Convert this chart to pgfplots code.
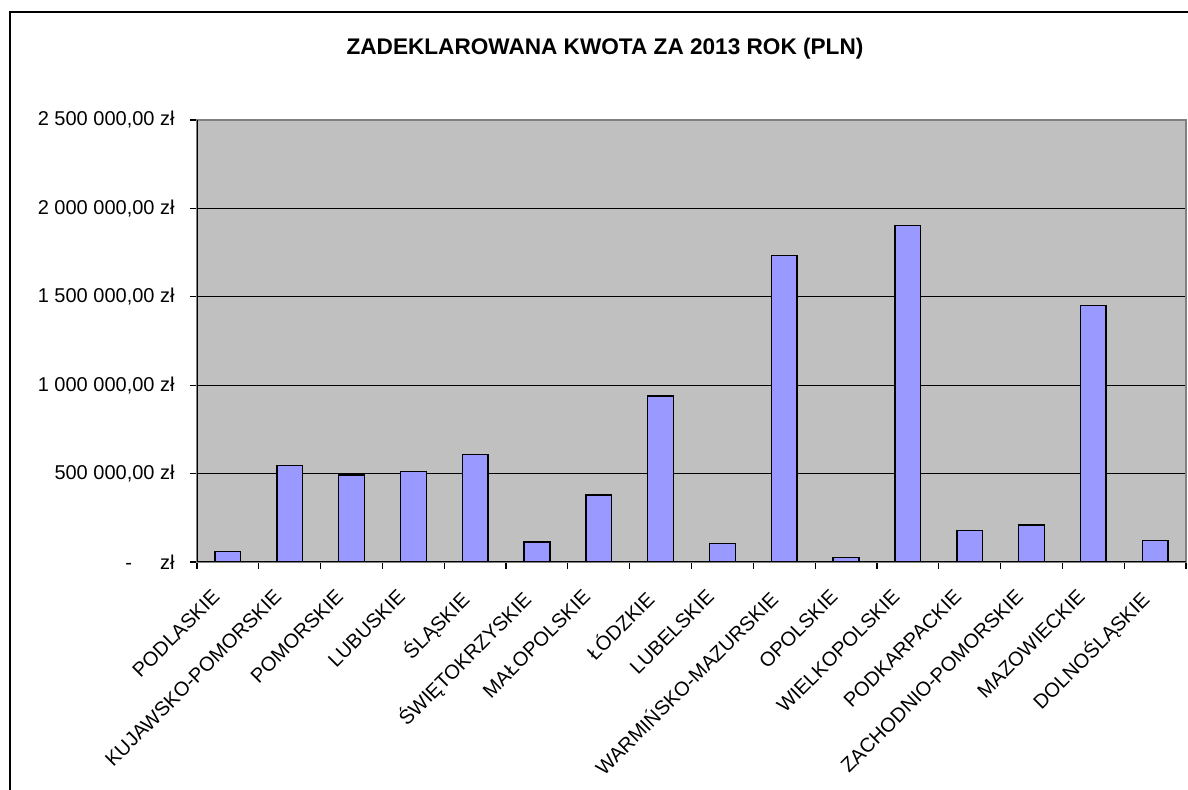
\documentclass[border=0pt]{standalone}
\usepackage{fontspec}
\setmainfont{Liberation Sans}
\usepackage{pgfplots}
\pgfplotsset{compat=1.18}
\definecolor{plotbg}{HTML}{C0C0C0}
\definecolor{barfill}{HTML}{9999FF}
\definecolor{frameg}{HTML}{808080}
\begin{document}
\begin{tikzpicture}
\useasboundingbox (0,0) rectangle (594bp,395bp);
\fill[white] (0,0) rectangle (594bp,395bp);
\draw[line width=1.1bp, black] (5bp,-20bp) rectangle (640bp,389bp);
\node[font=\fontsize{11.3bp}{13bp}\selectfont\bfseries] at (302.5bp,370.5bp) {ZADEKLAROWANA KWOTA ZA 2013 ROK (PLN)};
\begin{axis}[
  at={(98.5bp,114bp)}, anchor=south west,
  scale only axis, width=494.5bp, height=221bp,
  xmin=-0.5, xmax=15.5, ymin=0, ymax=2500000,
  axis background/.style={fill=plotbg},
  axis line style={draw=frameg, line width=0.7bp},
  ymajorgrids, grid style={black, line width=0.6bp},
  ytick={0,500000,1000000,1500000,2000000,2500000},
  yticklabels={{-\hspace{14bp}zł},{500 000,00 zł},{1 000 000,00 zł},{1 500 000,00 zł},{2 000 000,00 zł},{2 500 000,00 zł}},
  scaled y ticks=false,
  xtick={0,...,15},
  xticklabels={PODLASKIE,KUJAWSKO-POMORSKIE,POMORSKIE,LUBUSKIE,ŚLĄSKIE,ŚWIĘTOKRZYSKIE,MAŁOPOLSKIE,ŁÓDZKIE,LUBELSKIE,WARMIŃSKO-MAZURSKIE,OPOLSKIE,WIELKOPOLSKIE,PODKARPACKIE,ZACHODNIO-POMORSKIE,MAZOWIECKIE,DOLNOŚLĄSKIE},
  minor xtick={-0.5,0.5,...,15.5},
  major x tick style={draw=none},
  tick align=outside, tick pos=left,
  major tick length=3.5bp, minor tick length=3.5bp,
  tick style={black, line width=0.6bp},
  every tick label/.append style={font=\fontsize{10bp}{12bp}\selectfont},
  yticklabel style={inner sep=0pt, xshift=-7.5bp},
  xticklabel style={xshift=-8.5bp, yshift=-9.5bp, rotate=45, anchor=north east, inner sep=0pt},
  /pgf/number format/assume math mode=true,
]
\addplot[ybar, bar width=0.416, fill=barfill, draw=black, line width=0.7bp] coordinates {
(0,60000) (1,547000) (2,493000) (3,511000) (4,609000) (5,113000) (6,380000) (7,938000)
(8,103000) (9,1734000) (10,24000) (11,1903000) (12,177000) (13,210000) (14,1450000) (15,122000)
};
\draw[black, line width=0.7bp] (rel axis cs:0,0) -- (rel axis cs:0,1);
\draw[black, line width=0.7bp] (rel axis cs:0,0) -- (rel axis cs:1,0);
\end{axis}
\end{tikzpicture}
\end{document}
